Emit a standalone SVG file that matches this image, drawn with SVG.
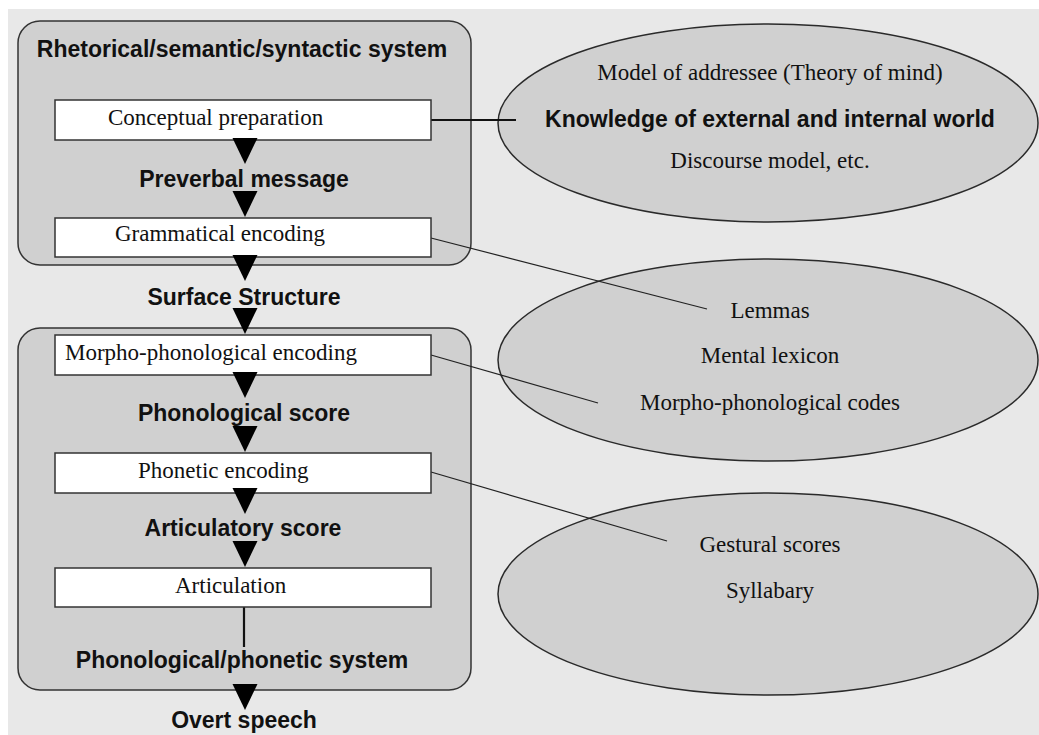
<svg xmlns="http://www.w3.org/2000/svg" xmlns:xlink="http://www.w3.org/1999/xlink" width="1039" height="735" viewBox="0 0 1039 735">
<style>
.sys{fill:#d0d0d0;stroke:#333;stroke-width:1.5}
.box{fill:#fff;stroke:#333;stroke-width:1.5}
.ell{fill:#d0d0d0;stroke:#2a2a2a;stroke-width:1.5}
.ser{font-family:"Liberation Serif","Times New Roman",serif;font-size:23px;fill:#111}
.bld{font-family:"Liberation Sans",Arial,sans-serif;font-size:23px;font-weight:bold;fill:#111}
.mid{text-anchor:middle}
.thin{stroke:#222;stroke-width:1.2;fill:none}
.thick{stroke:#111;stroke-width:2.2;fill:none}
.tri{fill:#000}
</style>
<defs>
<path id="tri" class="tri" d="M-12.5,0 L12.5,0 L0,26 Z"/>
</defs>
<rect x="0" y="0" width="1039" height="735" fill="#fff"/>
<rect x="8" y="9" width="1031" height="726" fill="#e8e8e8"/>

<g id="sys-rhetorical">
<rect class="sys" x="18" y="21" width="453" height="244" rx="22" ry="22"/>
<text class="bld mid" x="242" y="57">Rhetorical/semantic/syntactic system</text>
</g>
<g id="sys-phonological">
<rect class="sys" x="18" y="328" width="453" height="362" rx="22" ry="22"/>
<text class="bld mid" x="242" y="668">Phonological/phonetic system</text>
</g>

<g id="ell-knowledge">
<ellipse class="ell" cx="768" cy="123" rx="270" ry="99"/>
<text class="ser mid" x="770" y="80">Model of addressee (Theory of mind)</text>
<text class="bld mid" x="770" y="127">Knowledge of external and internal world</text>
<text class="ser mid" x="770" y="168">Discourse model, etc.</text>
</g>
<g id="ell-lexicon">
<ellipse class="ell" cx="768" cy="360" rx="270" ry="101"/>
<text class="ser mid" x="770" y="318">Lemmas</text>
<text class="ser mid" x="770" y="363">Mental lexicon</text>
<text class="ser mid" x="770" y="410">Morpho-phonological codes</text>
</g>
<g id="ell-syllabary">
<ellipse class="ell" cx="768" cy="594" rx="270" ry="101"/>
<text class="ser mid" x="770" y="552">Gestural scores</text>
<text class="ser mid" x="770" y="598">Syllabary</text>
</g>

<g id="connectors">
<line class="thick" x1="431" y1="120" x2="516" y2="120"/>
<line class="thin" x1="431" y1="238" x2="707" y2="309"/>
<line class="thin" x1="431" y1="355" x2="598" y2="403"/>
<line class="thin" x1="431" y1="472" x2="667" y2="541"/>
<line class="thick" x1="244" y1="607" x2="244" y2="647"/>
</g>

<g id="n-conceptual">
<rect class="box" x="55" y="100" width="376" height="40"/>
<text class="ser" x="108" y="125">Conceptual preparation</text>
</g>
<g id="n-grammatical">
<rect class="box" x="55" y="218" width="376" height="39"/>
<text class="ser" x="115" y="241">Grammatical encoding</text>
</g>
<g id="n-morpho">
<rect class="box" x="55" y="335" width="376" height="40"/>
<text class="ser" x="65" y="360">Morpho-phonological encoding</text>
</g>
<g id="n-phonetic">
<rect class="box" x="55" y="453" width="376" height="40"/>
<text class="ser" x="138" y="478">Phonetic encoding</text>
</g>
<g id="n-articulation">
<rect class="box" x="55" y="568" width="376" height="39"/>
<text class="ser" x="175" y="593">Articulation</text>
</g>

<g id="labels">
<text class="bld mid" x="244" y="187">Preverbal message</text>
<text class="bld mid" x="244" y="305">Surface Structure</text>
<text class="bld mid" x="244" y="421">Phonological score</text>
<text class="bld mid" x="243" y="536">Articulatory score</text>
<text class="bld mid" x="244" y="728">Overt speech</text>
</g>

<g id="arrowheads">
<use xlink:href="#tri" x="245" y="138"/>
<use xlink:href="#tri" x="245" y="191"/>
<use xlink:href="#tri" x="245" y="255"/>
<use xlink:href="#tri" x="245" y="308"/>
<use xlink:href="#tri" x="245" y="372"/>
<use xlink:href="#tri" x="245" y="426"/>
<use xlink:href="#tri" x="245" y="488"/>
<use xlink:href="#tri" x="245" y="541"/>
<use xlink:href="#tri" x="245" y="684"/>
</g>
</svg>
